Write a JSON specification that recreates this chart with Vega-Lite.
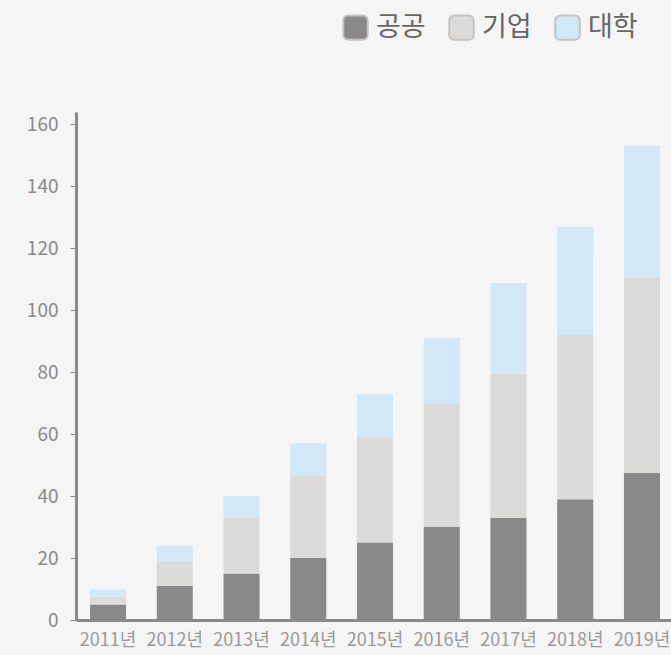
{
  "$schema": "https://vega.github.io/schema/vega-lite/v6.json",
  "autosize": "none",
  "width": 598,
  "height": 508,
  "padding": {"left": 76, "top": 112, "right": 0, "bottom": 35},
  "background": "#f5f5f5",
  "config": {
    "font": "Noto Sans CJK KR",
    "view": {"stroke": null}
  },
  "data": {
    "values": [
      {"year": "2011년", "type": "공공", "value": 5},
      {"year": "2011년", "type": "기업", "value": 2.5},
      {"year": "2011년", "type": "대학", "value": 2.3},
      {"year": "2012년", "type": "공공", "value": 11},
      {"year": "2012년", "type": "기업", "value": 8},
      {"year": "2012년", "type": "대학", "value": 5},
      {"year": "2013년", "type": "공공", "value": 15},
      {"year": "2013년", "type": "기업", "value": 18},
      {"year": "2013년", "type": "대학", "value": 7},
      {"year": "2014년", "type": "공공", "value": 20},
      {"year": "2014년", "type": "기업", "value": 26.5},
      {"year": "2014년", "type": "대학", "value": 10.5},
      {"year": "2015년", "type": "공공", "value": 25},
      {"year": "2015년", "type": "기업", "value": 34},
      {"year": "2015년", "type": "대학", "value": 14},
      {"year": "2016년", "type": "공공", "value": 30},
      {"year": "2016년", "type": "기업", "value": 40},
      {"year": "2016년", "type": "대학", "value": 21},
      {"year": "2017년", "type": "공공", "value": 33},
      {"year": "2017년", "type": "기업", "value": 46.5},
      {"year": "2017년", "type": "대학", "value": 29.3},
      {"year": "2018년", "type": "공공", "value": 39},
      {"year": "2018년", "type": "기업", "value": 53},
      {"year": "2018년", "type": "대학", "value": 35},
      {"year": "2019년", "type": "공공", "value": 47.5},
      {"year": "2019년", "type": "기업", "value": 63},
      {"year": "2019년", "type": "대학", "value": 42.6}
    ]
  },
  "mark": {"type": "bar"},
  "encoding": {
    "x": {
      "field": "year",
      "type": "nominal",
      "scale": {"paddingInner": 0.46, "paddingOuter": 0.21},
      "axis": {
        "title": null,
        "labelAngle": 0,
        "labelFontSize": 18,
        "labelColor": "#9a9a9a",
        "labelPadding": 11,
        "labelOverlap": false,
        "ticks": false,
        "domainColor": "#8a8a8a",
        "domainWidth": 3
      }
    },
    "y": {
      "field": "value",
      "type": "quantitative",
      "stack": "zero",
      "scale": {"domain": [0, 164], "nice": false},
      "axis": {
        "title": null,
        "values": [0, 20, 40, 60, 80, 100, 120, 140, 160],
        "grid": false,
        "labelFontSize": 19,
        "labelColor": "#8a8a8a",
        "labelPadding": 12,
        "tickSize": 6,
        "tickColor": "#8a8a8a",
        "domainColor": "#8a8a8a",
        "domainWidth": 3
      }
    },
    "color": {
      "field": "type",
      "type": "nominal",
      "scale": {"domain": ["공공", "기업", "대학"], "range": ["#8a8888", "#dcdbda", "#d1e8f7"]},
      "legend": {
        "title": null,
        "orient": "none",
        "legendX": 266,
        "legendY": -98,
        "direction": "horizontal",
        "columns": 3,
        "columnPadding": 19,
        "labelFontSize": 27,
        "labelColor": "#666666",
        "labelOffset": 7,
        "symbolSize": 600,
        "symbolType": "M -0.55 -1 L 0.55 -1 Q 1 -1 1 -0.55 L 1 0.55 Q 1 1 0.55 1 L -0.55 1 Q -1 1 -1 0.55 L -1 -0.55 Q -1 -1 -0.55 -1 Z",
        "symbolStrokeColor": "#c5c3c1",
        "symbolStrokeWidth": 2,
        "symbolOpacity": 1,
        "encode": {
          "symbols": {
            "update": {
              "fill": [
                {"test": "datum.value === '공공'", "value": "#6a6a6a"},
                {"scale": "color", "field": "value"}
              ],
              "stroke": {"value": "#c5c3c1"},
              "strokeWidth": {"value": 2}
            }
          }
        }
      }
    },
    "order": {"field": "type", "sort": "ascending"}
  }
}
